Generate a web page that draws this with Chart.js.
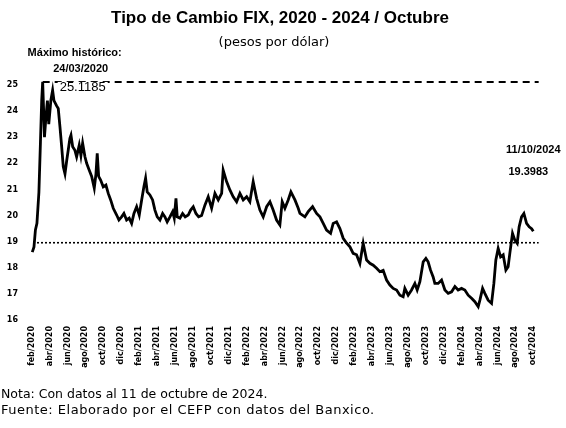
<!DOCTYPE html>
<html>
<head>
<meta charset="utf-8">
<script src="https://cdn.jsdelivr.net/npm/chart.js@4/dist/chart.umd.min.js"></script>
<style>
  html, body { margin: 0; padding: 0; background: #fff; }
  #wrap { width: 566px; height: 428px; }
</style>
</head>
<body>
<div id="wrap"><canvas id="c" width="566" height="428"></canvas></div>
<script>
// ---- Data ----
// Bimonthly tick labels (axis position 0 = feb/2020, step 2 = two months)
const etiquetasMes = [
  "feb/2020","abr/2020","jun/2020","ago/2020","oct/2020","dic/2020",
  "feb/2021","abr/2021","jun/2021","ago/2021","oct/2021","dic/2021",
  "feb/2022","abr/2022","jun/2022","ago/2022","oct/2022","dic/2022",
  "feb/2023","abr/2023","jun/2023","ago/2023","oct/2023","dic/2023",
  "feb/2024","abr/2024","jun/2024","ago/2024","oct/2024"
];
// Position on the time axis, in months since feb/2020
const mesPos = [
  0.07,0.26,0.42,0.59,0.81,0.98,1.12,1.23,1.32,1.43,1.60,1.76,1.91,2.15,2.34,2.49,2.79,2.97,
  3.16,3.35,3.53,3.72,3.91,4.08,4.27,4.39,4.58,4.83,5.02,5.31,5.50,5.69,5.95,6.14,6.43,6.70,
  6.99,7.18,7.32,7.48,7.70,7.99,8.29,8.55,8.82,9.11,9.49,9.74,10.04,10.30,10.60,10.89,11.16,
  11.42,11.72,12.01,12.28,12.53,12.72,12.90,13.20,13.50,13.76,14.02,14.32,14.62,14.88,15.13,
  15.44,15.74,15.92,16.11,16.25,16.55,16.85,17.14,17.48,17.75,18.04,18.34,18.64,18.97,19.34,
  19.71,20.09,20.46,20.83,21.21,21.38,21.76,22.13,22.50,22.88,23.25,23.62,24.00,24.36,24.73,
  25.11,25.48,25.85,26.23,26.60,26.96,27.34,27.71,27.97,28.27,28.64,28.94,29.39,29.76,29.95,
  30.50,30.87,31.36,31.81,32.18,32.55,32.92,33.37,33.66,34.04,34.41,34.78,35.16,35.53,35.89,
  36.27,36.64,37.01,37.39,37.76,38.13,38.51,38.87,39.24,39.62,39.99,40.36,40.74,41.11,41.47,
  41.66,42.03,42.41,42.78,43.04,43.34,43.71,44.01,44.26,44.53,44.82,45.01,45.38,45.76,46.13,
  46.50,46.88,47.25,47.61,47.99,48.36,48.73,49.11,49.48,49.85,50.04,50.34,50.59,50.96,51.34,
  51.60,51.82,52.08,52.35,52.64,52.94,53.19,53.38,53.68,53.94,54.20,54.42,54.69,54.95,55.25,
  55.54,55.81,56.00
];
// Tipo de cambio FIX (pesos por dólar)
const tipoCambio = [
  18.6,18.8,19.45,19.7,20.9,22.8,24.4,25.1185,24.2,23.0,23.8,24.4,23.5,24.43,24.8,24.4,24.2,24.1,
  23.4,22.64,21.87,21.6,22.1,22.5,22.96,23.08,22.64,22.5,22.25,22.7,22.3,22.77,22.25,22.0,21.74,21.5,
  21.05,21.6,22.38,21.5,21.36,21.1,21.17,20.85,20.6,20.28,20.02,19.83,19.95,20.08,19.83,19.9,19.7,
  20.08,20.34,20.02,20.6,21.1,21.43,20.91,20.79,20.6,20.21,19.95,19.83,20.08,19.95,19.76,
  19.95,20.15,19.9,20.66,19.95,19.9,20.08,19.95,20.02,20.21,20.34,20.08,19.95,20.0,20.4,
  20.72,20.28,20.85,20.6,20.85,21.74,21.3,20.98,20.72,20.53,20.85,20.6,20.72,20.53,21.3,
  20.66,20.21,19.95,20.34,20.53,20.21,19.83,19.64,20.53,20.28,20.6,20.91,20.6,20.28,20.08,
  19.95,20.15,20.34,20.08,19.95,19.7,19.44,19.32,19.7,19.76,19.5,19.13,18.94,18.8,18.55,
  18.5,18.17,18.94,18.3,18.17,18.1,17.98,17.85,17.9,17.53,17.34,17.21,17.15,16.95,16.89,
  17.21,16.95,17.15,17.4,17.15,17.47,18.23,18.36,18.23,17.91,17.65,17.4,17.4,17.53,17.15,
  17.02,17.08,17.28,17.15,17.21,17.15,16.95,16.83,16.7,16.51,16.76,17.21,17.02,16.76,16.64,
  17.4,18.3,18.74,18.42,18.5,17.91,18.04,18.55,19.32,19.06,18.94,19.57,19.95,20.08,19.7,
  19.57,19.5,19.3983
];
const maximoHistorico = 25.1185;
const fechaMaximo = "24/03/2020";
const ultimoValor = 19.3983;
const fechaUltimo = "11/10/2024";
const lineaReferencia = 18.96;
const yTicks = [16,17,18,19,20,21,22,23,24,25];

// ---- Build datasets ----
const serie = mesPos.map((m, i) => ({ x: m, y: tipoCambio[i] }));
const iMax = tipoCambio.indexOf(maximoHistorico);
const xFin = 56.6;
const lineaMax = [{ x: mesPos[iMax], y: maximoHistorico }, { x: xFin, y: maximoHistorico }];
const lineaRef = [{ x: 0.15, y: lineaReferencia }, { x: xFin, y: lineaReferencia }];

const FONT = '"Liberation Sans", Arial, sans-serif';
const FONT2 = '"DejaVu Sans", sans-serif';

const textos = {
  id: 'textos',
  afterDraw(chart) {
    const ctx = chart.ctx;
    const xs = chart.scales.x, ys = chart.scales.y;
    ctx.save();
    ctx.fillStyle = '#000';
    ctx.textBaseline = 'middle';
    ctx.textAlign = 'center';
    ctx.font = 'bold 17px ' + FONT;
    ctx.fillText('Tipo de Cambio FIX, 2020 - 2024 / Octubre', 280, 18);
    ctx.font = '13px ' + FONT2;
    ctx.fillText('(pesos por dólar)', 274, 43);

    // peak annotation
    const px = xs.getPixelForValue(mesPos[iMax]);
    ctx.font = 'bold 11px ' + FONT;
    ctx.fillText('Máximo histórico:', px + 32, 53);
    ctx.fillText(fechaMaximo, px + 38, 69);
    ctx.font = '13px ' + FONT;
    const t = maximoHistorico.toFixed(4);
    const w = ctx.measureText(t).width;
    const ty = ys.getPixelForValue(maximoHistorico) + 5;
    ctx.fillStyle = '#fff';
    ctx.fillRect(px + 40 - w / 2 - 2, ty - 5, w + 4, 12);
    ctx.fillStyle = '#000';
    ctx.fillText(t, px + 40, ty);

    // last value annotation
    const lx = xs.getPixelForValue(mesPos[mesPos.length - 1]);
    ctx.font = 'bold 11px ' + FONT;
    ctx.fillText(fechaUltimo, lx, 150);
    ctx.fillText(ultimoValor.toFixed(4), lx - 5, 172);

    // notes
    ctx.textAlign = 'left';
    ctx.font = '12.5px ' + FONT2;
    ctx.fillText('Nota: Con datos al 11 de octubre de 2024.', 1, 395);
    ctx.font = '13px ' + FONT2;
    ctx.letterSpacing = '0.5px';
    ctx.fillText('Fuente: Elaborado por el CEFP con datos del Banxico.', 1, 411);
    ctx.restore();
  }
};

new Chart(document.getElementById('c'), {
  type: 'scatter',
  data: {
    datasets: [
      { data: lineaRef, showLine: true, borderColor: '#000', borderWidth: 1.6,
        borderDash: [2, 2], pointRadius: 0 },
      { data: lineaMax, showLine: true, borderColor: '#000', borderWidth: 2,
        borderDash: [7, 5], pointRadius: 0 },
      { data: serie, showLine: true, borderColor: '#000', borderWidth: 2.8,
        pointRadius: 0, tension: 0 }
    ]
  },
  options: {
    responsive: false,
    animation: false,
    events: [],
    layout: { padding: { top: 77.2, bottom: 52, left: 0, right: 23.75 } },
    plugins: { legend: { display: false }, tooltip: { enabled: false }, title: { display: false } },
    scales: {
      x: {
        type: 'linear', min: -0.52, max: 57,
        grid: { display: false, drawTicks: false }, border: { display: false },
        afterFit: s => { s.height = 56; },
        ticks: {
          stepSize: 2, includeBounds: false, autoSkip: false,
          minRotation: 90, maxRotation: 90, padding: 6, color: '#000',
          font: { family: FONT2, size: 8, weight: 'bold' },
          callback: v => (Number.isInteger(v) && v % 2 === 0 && v / 2 < etiquetasMes.length) ? etiquetasMes[v / 2] : ''
        }
      },
      y: {
        min: 16, max: 25.3,
        grid: { display: false, drawTicks: false }, border: { display: false },
        afterFit: s => { s.width = 27; },
        afterBuildTicks: s => { s.ticks = yTicks.map(v => ({ value: v })); },
        ticks: {
          padding: 9, color: '#000',
          font: { family: FONT2, size: 8, weight: 'bold' }
        }
      }
    }
  },
  plugins: [textos]
});
</script>
</body>
</html>
